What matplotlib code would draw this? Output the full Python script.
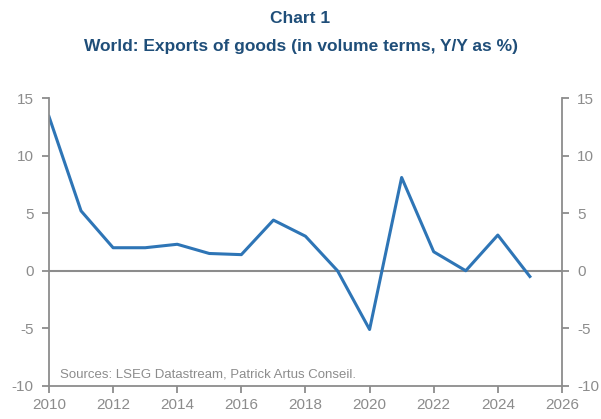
import matplotlib.pyplot as plt

plt.rcParams["axes.unicode_minus"] = False

years = [2010, 2011, 2012, 2013, 2014, 2015, 2016, 2017, 2018, 2019,
         2020, 2021, 2022, 2023, 2024, 2025]
exports = [13.4, 5.2, 2.0, 2.0, 2.3, 1.5, 1.4, 4.4, 3.0, 0.0,
           -5.1, 8.1, 1.65, 0.0, 3.1, -0.5]
x_ticks = list(range(2010, 2027, 2))
y_ticks = [-10, -5, 0, 5, 10, 15]

font = "Liberation Sans"
grey = "#8c8c8c"
title_col = "#1f4e79"

fig = plt.figure(figsize=(6.01, 4.19), dpi=100)
ax = fig.add_axes([0.0815, 0.079, 0.8535, 0.687])

ax.axhline(0, color=grey, lw=1.5, zorder=1)
ax.plot(years, exports, color="#2e75b6", lw=2.2, zorder=2)

ax.set_xlim(2010, 2026)
ax.set_ylim(-10, 15)
ax.set_xticks(x_ticks)
ax.set_yticks(y_ticks)

ax.spines["top"].set_visible(False)
for s in ["left", "right", "bottom"]:
    ax.spines[s].set_color(grey)
    ax.spines[s].set_linewidth(1.3)

ax.tick_params(axis="both", colors=grey, labelcolor=grey, length=5, width=1.3,
               labelsize=11)
ax.tick_params(axis="y", left=True, right=True, labelleft=True,
               labelright=True, pad=6)
for lab in ax.get_xticklabels() + ax.yaxis.get_ticklabels():
    lab.set_fontfamily(font)
for t in ax.yaxis.get_major_ticks():
    t.label2.set_fontfamily(font)

ax.text(2010.35, -9.0, "Sources: LSEG Datastream, Patrick Artus Conseil.",
        color=grey, fontsize=9.5, family=font, va="center")

fig.text(0.5, 0.957, "Chart 1", ha="center", va="center", fontsize=12.5,
         fontweight="bold", color=title_col, family=font)
fig.text(0.5, 0.89, "World: Exports of goods (in volume terms, Y/Y as %)",
         ha="center", va="center", fontsize=12.5, fontweight="bold",
         color=title_col, family=font)

fig.savefig("out.png", dpi=100)
